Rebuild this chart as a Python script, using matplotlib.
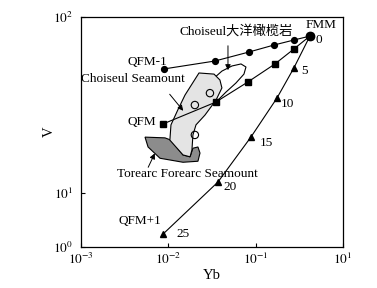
import matplotlib
matplotlib.use('Agg')
import matplotlib.pyplot as plt

plt.rcParams['font.family'] = ['Liberation Serif', 'Noto Sans CJK SC']
plt.rcParams['mathtext.fontset'] = 'stix'

# melting curves (Yb, V), FMM source at the end
qfm_m1_yb = [0.0089, 0.034, 0.0836, 0.161, 0.273, 0.417]
qfm_m1_v = [50.5, 56.0, 63.0, 69.0, 73.7, 77.6]
qfm_yb = [0.0087, 0.0348, 0.0814, 0.166, 0.273, 0.417]
qfm_v = [24.6, 32.7, 42.6, 53.9, 65.5, 77.6]
qfm_p1_yb = [0.417, 0.273, 0.175, 0.088, 0.0369, 0.00867]
qfm_p1_v = [77.6, 51.1, 34.5, 20.7, 11.5, 5.82]
melt_pct = ['0', '5', '10', '15', '20', '25']

# fields
choiseul_yb = [0.0224, 0.0333, 0.0389, 0.0410, 0.0351, 0.0262, 0.0207, 0.0191,
               0.0186, 0.0177, 0.0147, 0.0104, 0.0107, 0.0128, 0.0155]
choiseul_v = [47.9, 47.2, 43.7, 39.4, 33.6, 27.6, 24.3, 21.3,
              17.5, 16.0, 16.4, 19.9, 24.3, 29.5, 35.9]
forearc_yb = [0.0054, 0.00914, 0.0107, 0.0147, 0.0177, 0.0191, 0.0218, 0.0230,
              0.0218, 0.0147, 0.00802, 0.00585]
forearc_v = [20.7, 20.5, 19.9, 16.4, 16.0, 17.9, 18.2, 16.8,
             15.1, 14.9, 15.7, 18.2]
oceanic_yb = [0.0333, 0.0316, 0.0333, 0.0410, 0.0535, 0.0678, 0.0773, 0.0733,
              0.0593, 0.0456]
oceanic_v = [31.9, 38.3, 44.8, 49.1, 52.5, 53.9, 51.8, 47.2, 42.0, 37.3]

# Choiseul samples
sample_yb = [0.0299, 0.0201, 0.0201]
sample_v = [36.8, 31.5, 21.3]

fig = plt.figure(figsize=(3.77, 2.88), dpi=100)
ax = fig.add_axes([0.215, 0.143, 0.695, 0.799])
ax.set_xscale('log')
ax.set_yscale('log')

ax.fill(oceanic_yb, oceanic_v, facecolor='white', edgecolor='black', lw=0.8, zorder=1)
ax.fill(forearc_yb, forearc_v, facecolor='#8c8c8c', edgecolor='black', lw=0.8, zorder=2)
ax.fill(choiseul_yb, choiseul_v, facecolor='#e4e4e4', edgecolor='black', lw=0.8, zorder=3)
ax.scatter(sample_yb, sample_v, s=28, facecolors='none', edgecolors='black', lw=0.8, zorder=4)

ax.plot(qfm_m1_yb, qfm_m1_v, 'k-', marker='o', ms=4.2, lw=0.8, zorder=5)
ax.plot(qfm_yb, qfm_v, 'k-', marker='s', ms=3.8, lw=0.8, zorder=5)
ax.plot(qfm_p1_yb[1:], qfm_p1_v[1:], 'k^', ms=4.5, zorder=5)
ax.plot(qfm_p1_yb, qfm_p1_v, 'k-', lw=0.8, zorder=5)
ax.plot(qfm_p1_yb[0], qfm_p1_v[0], 'ko', ms=6, zorder=6)

fs = 9.5
lab_pos = [(0.53, 73.7), (0.366, 49.1), (0.233, 31.9), (0.134, 19.1), (0.0507, 10.8), (0.0147, 5.82)]
for (x, y), t in zip(lab_pos, melt_pct):
    ax.text(x, y, t, fontsize=fs, ha='center', va='center')

ax.text(0.557, 89.7, 'FMM', fontsize=fs, ha='center', va='center')
ax.text(0.00473, 6.9, 'QFM+1', fontsize=fs, ha='center', va='center')
ax.text(0.00499, 25.2, 'QFM', fontsize=fs, ha='center', va='center')
ax.text(0.00569, 55.3, 'QFM-1', fontsize=fs, ha='center', va='center')

arrow = dict(arrowstyle='-|>', color='black', lw=0.7, mutation_scale=8)
ax.text(0.00394, 44.3, 'Choiseul Seamount', fontsize=fs, ha='center', va='center')
ax.annotate('', xy=(0.0155, 28.4), xytext=(0.00988, 37.3), arrowprops=arrow)
ax.text(0.0593, 83.0, 'Choiseul大洋橄榄岩', fontsize=fs, ha='center', va='center')
ax.annotate('', xy=(0.0481, 47.9), xytext=(0.0481, 70.9), arrowprops=arrow)
ax.text(0.0163, 12.8, 'Torearc Forearc Seamount', fontsize=fs, ha='center', va='center')
ax.annotate('', xy=(0.00721, 17.3), xytext=(0.00569, 13.5), arrowprops=arrow)

ax.set_xlim(1e-3, 1e0)
ax.set_ylim(4.93, 100)
ax.set_xticks([1e-3, 1e-2, 1e-1, 1e0])
ax.set_xticklabels(['$10^{-3}$', '$10^{-2}$', '$10^{-1}$', '$10^{1}$'])
ax.set_yticks([4.93, 10, 100])
ax.set_yticklabels(['$10^{0}$', '$10^{1}$', '$10^{2}$'])
ax.minorticks_off()
ax.tick_params(direction='in', length=3, width=0.8, labelsize=9.5)
ax.tick_params(axis='x', pad=4)
ax.tick_params(axis='y', pad=6)
ax.set_xlabel('Yb', fontsize=10.5, labelpad=1)
ax.set_ylabel('V', fontsize=10.5, labelpad=-2)
for s in ax.spines.values():
    s.set_linewidth(0.9)

fig.savefig('out.png', dpi=100)
